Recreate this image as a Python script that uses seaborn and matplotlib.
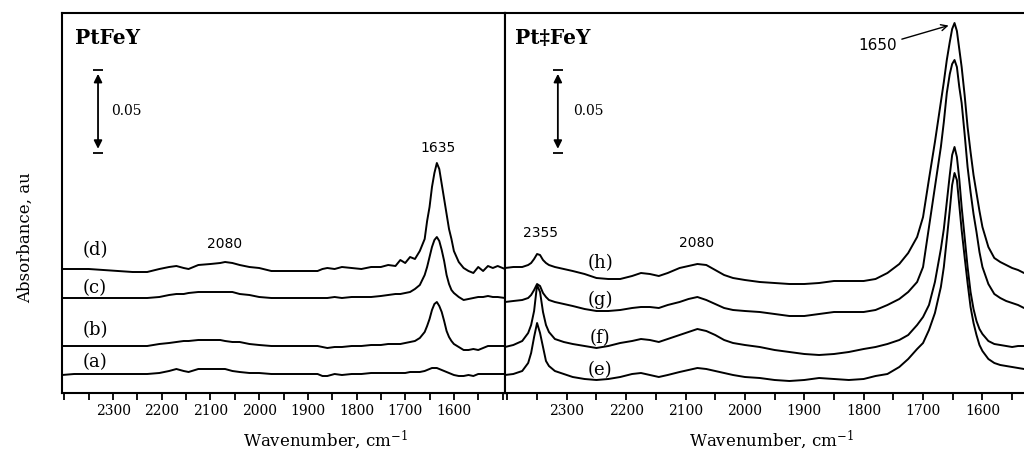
import numpy as np
import pandas as pd
import matplotlib
matplotlib.use("Agg")
import matplotlib.pyplot as plt
import seaborn as sns

# ---------------- data (absorbance) ----------------
wn_left = [2405, 2380, 2350, 2320, 2290, 2260, 2230, 2205, 2185, 2170,
           2155, 2145, 2125, 2100, 2080, 2070, 2055, 2040, 2020, 2000,
           1975, 1950, 1925, 1900, 1880, 1870, 1860, 1845, 1830, 1810,
           1790, 1770, 1750, 1735, 1720, 1710, 1700, 1690, 1680, 1670,
           1660, 1655, 1650, 1645, 1640, 1635, 1630, 1625, 1620, 1615,
           1610, 1605, 1600, 1590, 1580, 1570, 1560, 1550, 1540, 1530,
           1520, 1510, 1495]

spec_d = [0, 0, 0, -0.0006, -0.0012, -0.0018, -0.0018, 0, 0.0012, 0.0018,
          0.0006, 0, 0.0024, 0.003, 0.0036, 0.0042, 0.0036, 0.0024, 0.0012, 0.0006,
          -0.0012, -0.0012, -0.0012, -0.0012, -0.0012, 0, 0.0006, 0, 0.0012, 0.0006,
          0, 0.0012, 0.0012, 0.0024, 0.0018, 0.0054, 0.0036, 0.0072, 0.006, 0.0108,
          0.018, 0.0288, 0.0372, 0.0492, 0.0576, 0.0636, 0.06, 0.051, 0.042, 0.033,
          0.024, 0.018, 0.0108, 0.0042, 0.0006, -0.0012, -0.0024, 0.0012, -0.0012, 0.0018,
          0.0006, 0.0018, 0]
spec_c = [-0.0006, -0.0006, -0.0006, -0.0006, -0.0006, -0.0006, -0.0006, 0, 0.0012, 0.0018,
          0.0018, 0.0024, 0.003, 0.003, 0.003, 0.003, 0.003, 0.0018, 0.0012, 0,
          -0.0006, -0.0006, -0.0006, -0.0006, -0.0006, -0.0006, -0.0006, 0, -0.0006, 0,
          0, 0, 0.0006, 0.0012, 0.0018, 0.0018, 0.0024, 0.003, 0.0048, 0.0072,
          0.0132, 0.018, 0.024, 0.03, 0.0342, 0.036, 0.0336, 0.0282, 0.0216, 0.0132,
          0.0078, 0.0042, 0.0024, 0, -0.0018, -0.0012, -0.0006, 0, 0, 0.0006,
          0, 0, -0.0006]
spec_b = [0, 0, 0, 0, 0, 0, 0, 0.0012, 0.0018, 0.0024,
          0.003, 0.003, 0.0036, 0.0036, 0.0036, 0.003, 0.0024, 0.0024, 0.0012, 0.0006,
          0, 0, 0, 0, 0, -0.0006, -0.0012, -0.0006, -0.0006, 0,
          0, 0.0006, 0.0006, 0.0012, 0.0012, 0.0012, 0.0018, 0.0024, 0.003, 0.0048,
          0.0084, 0.012, 0.0162, 0.0216, 0.0252, 0.0264, 0.024, 0.0204, 0.015, 0.009,
          0.0054, 0.003, 0.0012, -0.0006, -0.0024, -0.0024, -0.0018, -0.0024, -0.0012, 0,
          0, 0, 0]
spec_a = [-0.0006, 0, 0, 0, 0, 0, 0, 0.0006, 0.0018, 0.003,
          0.0018, 0.0012, 0.003, 0.003, 0.003, 0.003, 0.0018, 0.0012, 0.0006, 0.0006,
          0, 0, 0, 0, 0, -0.0012, -0.0012, 0, -0.0006, 0,
          0, 0.0006, 0.0006, 0.0006, 0.0006, 0.0006, 0.0006, 0.0012, 0.0012, 0.0012,
          0.0018, 0.0024, 0.003, 0.0036, 0.0036, 0.0036, 0.003, 0.0024, 0.0018, 0.0012,
          0.0006, 0, -0.0006, -0.0012, -0.0012, -0.0006, -0.0012, 0, 0, 0,
          0, 0, 0]
labels_left = ["(a)", "(b)", "(c)", "(d)"]
offsets_left = [0.0114, 0.0282, 0.0576, 0.0744]

wn_right = [2404, 2390, 2375, 2365, 2360, 2355, 2350, 2345, 2340, 2335,
            2330, 2320, 2305, 2290, 2270, 2250, 2230, 2210, 2190, 2175,
            2160, 2145, 2130, 2110, 2095, 2080, 2065, 2050, 2035, 2020,
            2000, 1975, 1950, 1925, 1900, 1875, 1850, 1825, 1800, 1780,
            1760, 1740, 1725, 1710, 1700, 1690, 1680, 1670, 1665, 1660,
            1655, 1651, 1647, 1643, 1639, 1635, 1630, 1625, 1620, 1615,
            1610, 1605, 1600, 1590, 1580, 1570, 1560, 1550, 1540, 1530]

spec_h = [-0.0006, 0, 0, 0.0012, 0.0024, 0.0048, 0.0078, 0.0072, 0.0042, 0.0024,
          0.0012, 0, -0.0012, -0.0024, -0.0042, -0.0066, -0.0072, -0.0072, -0.0054, -0.0036,
          -0.0042, -0.0054, -0.0036, -0.0006, 0.0006, 0.0018, 0.0012, -0.0018, -0.0048, -0.0066,
          -0.0078, -0.009, -0.0096, -0.0102, -0.0102, -0.0096, -0.0084, -0.0084, -0.0084, -0.0072,
          -0.0036, 0.0018, 0.0084, 0.018, 0.03, 0.0528, 0.075, 0.099, 0.111, 0.1242,
          0.135, 0.1428, 0.1464, 0.1416, 0.1308, 0.12, 0.1032, 0.084, 0.069, 0.0552,
          0.0444, 0.0336, 0.024, 0.012, 0.0054, 0.003, 0.0012, -0.0006, -0.0018, -0.0036]
spec_g = [0, 0.0006, 0.0012, 0.0024, 0.0042, 0.0072, 0.0108, 0.0096, 0.0054, 0.003,
          0.0012, 0, -0.0012, -0.0024, -0.0042, -0.0054, -0.0054, -0.0048, -0.0036, -0.003,
          -0.003, -0.0036, -0.0018, 0, 0.0018, 0.003, 0.0012, -0.0012, -0.0036, -0.0048,
          -0.0054, -0.006, -0.0072, -0.0084, -0.0084, -0.0072, -0.006, -0.006, -0.006, -0.0048,
          -0.0018, 0.0018, 0.006, 0.012, 0.021, 0.045, 0.069, 0.093, 0.108, 0.1254,
          0.1368, 0.1428, 0.1452, 0.141, 0.129, 0.1194, 0.1008, 0.081, 0.066, 0.0528,
          0.042, 0.03, 0.021, 0.0108, 0.0048, 0.0024, 0.0006, -0.0006, -0.0018, -0.0036]
spec_f = [0, 0.0012, 0.0036, 0.0084, 0.0132, 0.0216, 0.0372, 0.033, 0.021, 0.0132,
          0.009, 0.0048, 0.003, 0.0018, 0.0006, -0.0006, 0.0006, 0.0024, 0.0036, 0.0048,
          0.0042, 0.003, 0.0048, 0.0072, 0.009, 0.0108, 0.0096, 0.0072, 0.0042, 0.0024,
          0.0012, 0, -0.0018, -0.003, -0.0042, -0.0048, -0.0042, -0.003, -0.0012, 0,
          0.0018, 0.0042, 0.0072, 0.0132, 0.018, 0.0252, 0.039, 0.0588, 0.0708, 0.087,
          0.1032, 0.1152, 0.12, 0.114, 0.1008, 0.084, 0.066, 0.048, 0.033, 0.0228,
          0.0156, 0.0108, 0.0078, 0.0036, 0.0018, 0.0012, 0.0006, 0, 0.0006, 0.0006]
spec_e = [0, 0.0006, 0.0024, 0.0072, 0.0132, 0.0228, 0.0312, 0.0252, 0.0168, 0.0084,
          0.0054, 0.0024, 0.0006, -0.0012, -0.0024, -0.003, -0.0024, -0.0012, 0.0006, 0.0012,
          0, -0.0012, 0, 0.0018, 0.003, 0.0042, 0.0036, 0.0024, 0.0012, 0,
          -0.0012, -0.0018, -0.003, -0.0036, -0.003, -0.0018, -0.0024, -0.003, -0.0024, -0.0006,
          0.0006, 0.0048, 0.0096, 0.0156, 0.0192, 0.027, 0.0372, 0.0528, 0.0648, 0.0816,
          0.099, 0.114, 0.1212, 0.117, 0.102, 0.087, 0.0708, 0.0552, 0.0408, 0.0312,
          0.024, 0.018, 0.0144, 0.0096, 0.0072, 0.006, 0.0054, 0.0048, 0.0042, 0.0036]
labels_right = ["(e)", "(f)", "(g)", "(h)"]
offsets_right = [0.0108, 0.0276, 0.0546, 0.0756]

tick_major = [2300, 2200, 2100, 2000, 1900, 1800, 1700, 1600]


def long_frame(wn, specs, labels, offsets):
    rows = []
    for lab, vals, off in zip(labels, specs, offsets):
        for w, v in zip(wn, vals):
            rows.append((w, v + off, lab))
    return pd.DataFrame(rows, columns=["wavenumber", "absorbance", "sample"])


dfL = long_frame(wn_left, [spec_a, spec_b, spec_c, spec_d], labels_left, offsets_left)
dfR = long_frame(wn_right, [spec_e, spec_f, spec_g, spec_h], labels_right, offsets_right)

# ---------------- style ----------------
sns.set_style("white")
plt.rcParams["font.family"] = ["DejaVu Serif"]
plt.rcParams["mathtext.fontset"] = "dejavuserif"
plt.rcParams["text.color"] = "black"
plt.rcParams["axes.labelcolor"] = "black"
plt.rcParams["xtick.color"] = "black"

W, H = 1024, 451
fig = plt.figure(figsize=(W / 100, H / 100), dpi=100)
axL = fig.add_axes([62 / W, 58 / H, 443 / W, 380 / H])
axR = fig.add_axes([505 / W, 58 / H, 519 / W, 380 / H])

for ax, df in ((axL, dfL), (axR, dfR)):
    sns.lineplot(data=df, x="wavenumber", y="absorbance", units="sample",
                 estimator=None, sort=False, color="black", lw=1.4, ax=ax,
                 legend=False)
    ax.set_ylim(0, 0.228)
    ax.set_yticks([])
    ax.set_ylabel("")
    ax.set_xlabel("Wavenumber, cm$^{-1}$", fontsize=12, color="black")
    for s in ax.spines.values():
        s.set_linewidth(1.5)
        s.set_color("black")
    ax.tick_params(axis="x", bottom=True, direction="out", length=5, width=1.3,
                   labelsize=10, pad=3, colors="black")

axL.set_xlim(2405, 1495)
axR.set_xlim(2404, 1530)
axR.spines["right"].set_visible(False)

ticksL = list(range(2400, 1499, -50))
axL.set_xticks(ticksL)
axL.set_xticklabels([str(t) if t in tick_major else "" for t in ticksL])
ticksR = list(range(2400, 1549, -50))
axR.set_xticks(ticksR)
axR.set_xticklabels([str(t) if t in tick_major else "" for t in ticksR])

axL.xaxis.set_label_coords(0.594, -0.092)
axR.xaxis.set_label_coords(0.514, -0.092)

fig.text(25 / W, 1 - 238 / H, "Absorbance, au", rotation=90,
         ha="center", va="center", fontsize=12, color="black")

# panel titles
axL.text(2378, 0.213, "PtFeY", fontsize=14.5, fontweight="bold",
         ha="left", va="center")
axR.text(2387, 0.213, "Pt‡FeY", fontsize=14.5, fontweight="bold",
         ha="left", va="center")

# scale bars
for ax, xs, half, xt in ((axL, 2331, 11, 2305), (axR, 2315, 9, 2290)):
    ax.hlines([0.144, 0.194], xs + half, xs - half, color="black", lw=1.3)
    ax.annotate("", xy=(xs, 0.1915), xytext=(xs, 0.1465),
                arrowprops=dict(arrowstyle="<|-|>", color="black", lw=1.3,
                                mutation_scale=12, shrinkA=0, shrinkB=0))
    ax.text(xt, 0.169, "0.05", fontsize=10, ha="left", va="center")

# trace labels
for lab, y in zip(labels_left, [0.0186, 0.0378, 0.063, 0.0858]):
    axL.text(2337, y, lab, fontsize=13, ha="center", va="center")
for lab, y in zip(labels_right, [0.0138, 0.033, 0.0558, 0.078]):
    axR.text(2244, y, lab, fontsize=13, ha="center", va="center")

# peak annotations
sans = ["DejaVu Sans"]
axL.text(1633, 0.147, "1635", fontsize=10, family=sans, ha="center", va="center")
axL.text(2072, 0.0894, "2080", fontsize=10, family=sans, ha="center", va="center")
axR.text(2345, 0.096, "2355", fontsize=10, family=sans, ha="center", va="center")
axR.text(2081, 0.090, "2080", fontsize=10, family=sans, ha="center", va="center")
axR.annotate("1650", xy=(1657, 0.2205), xytext=(1776, 0.2088),
             fontsize=11, family=sans, ha="center", va="center",
             arrowprops=dict(arrowstyle="->", color="black", lw=1.0,
                             relpos=(1.0, 0.8), shrinkA=1, shrinkB=0))

fig.savefig("out.png", dpi=100)
